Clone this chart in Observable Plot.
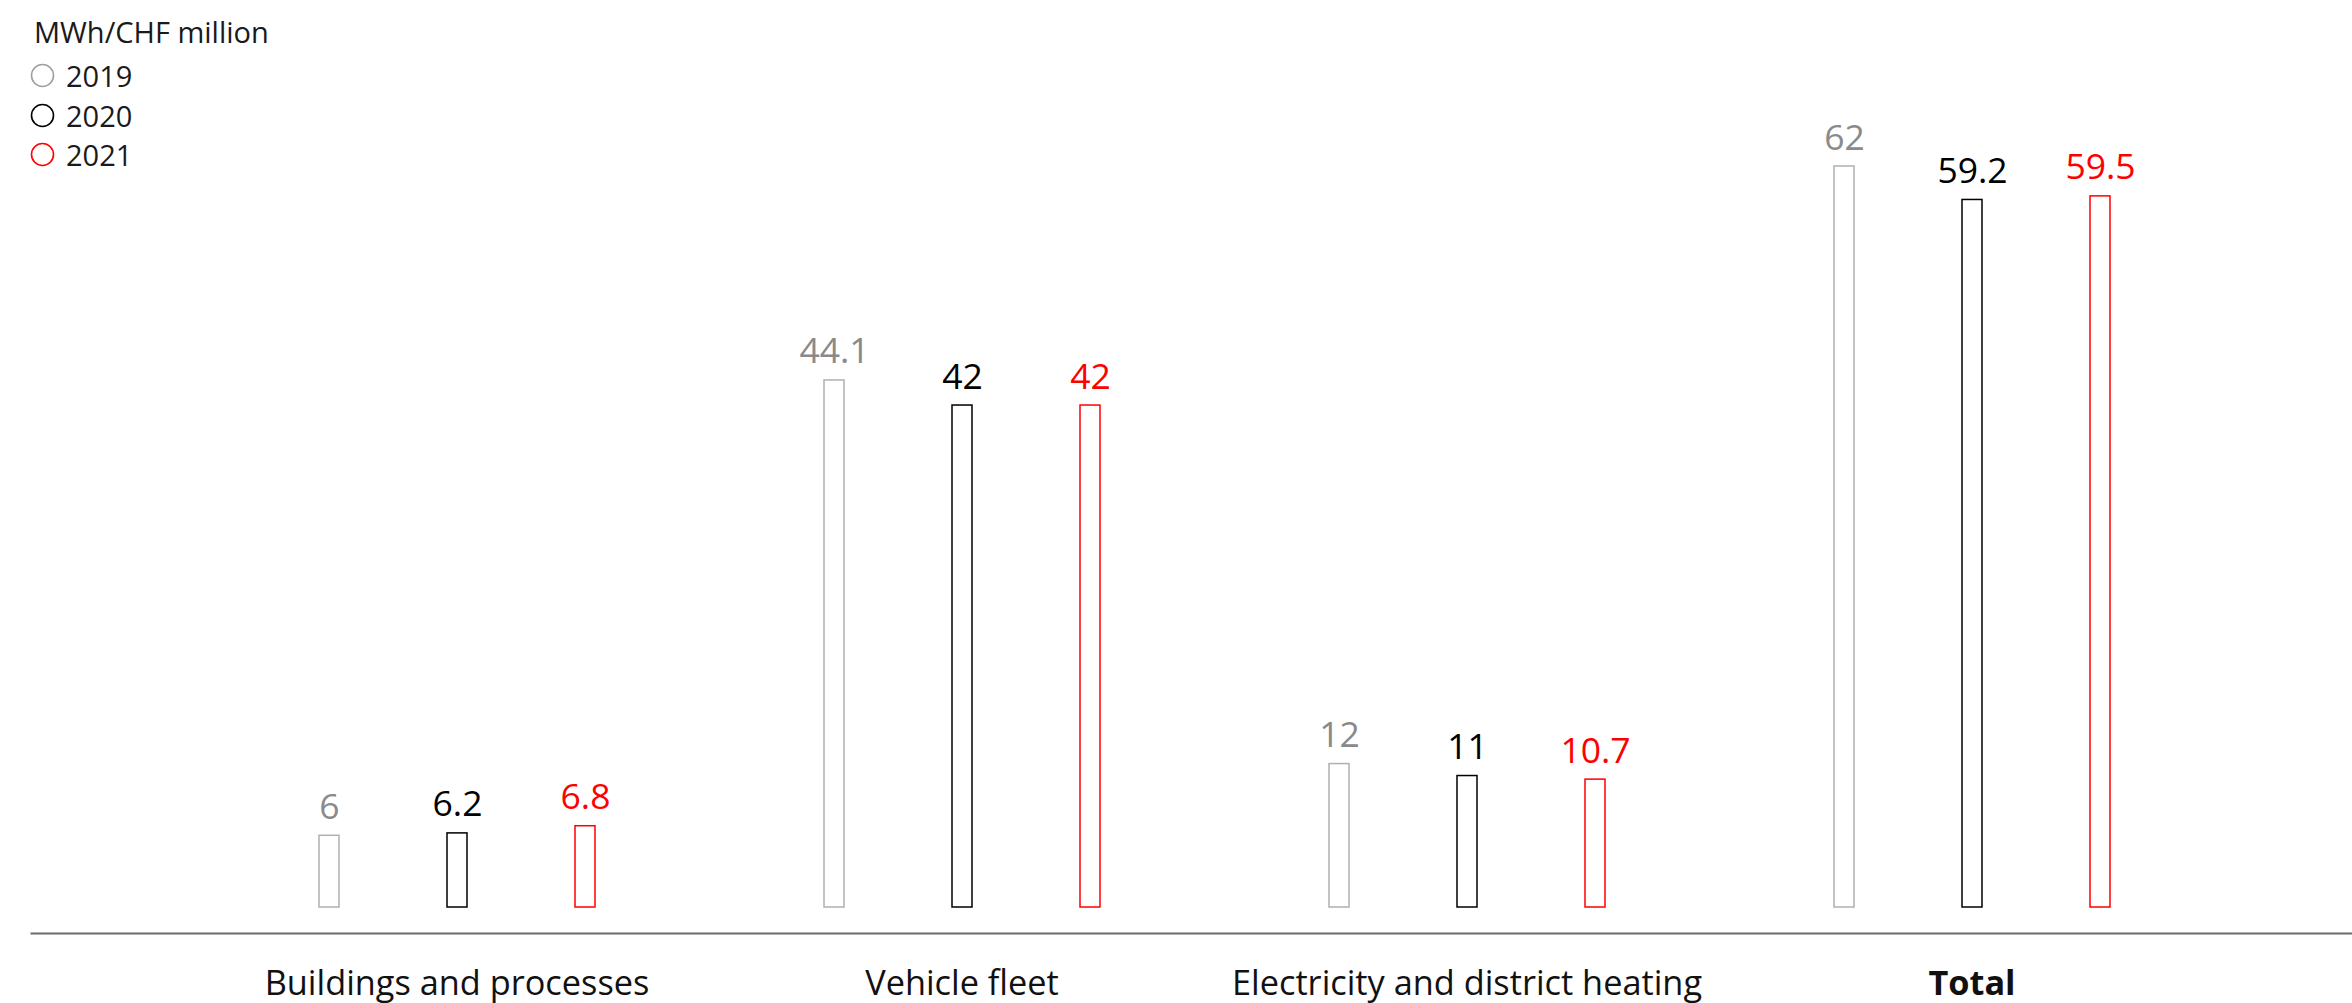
<!DOCTYPE html>
<html>
<head>
<meta charset="utf-8">
<script src="https://cdn.jsdelivr.net/npm/d3@7"></script>
<script src="https://cdn.jsdelivr.net/npm/@observablehq/plot@0.6"></script>
<style>
  html, body { margin: 0; padding: 0; background: #fff; }
  #wrap { position: relative; width: 2352px; height: 1003px; font-family: "Open Sans", "Noto Sans", sans-serif; }
  #chart { position: absolute; left: 0; top: 0; }
  .lg-head { position: absolute; left: 34px; top: 12px; font-size: 29px; line-height: 40px; color: #1a1a1a; white-space: nowrap; }
  .lg-row { position: absolute; left: 30px; height: 40px; display: flex; align-items: center; font-size: 29px; color: #1a1a1a; white-space: nowrap; }
  .lg-row svg { margin-right: 11px; }
</style>
</head>
<body>
<div id="wrap">
  <div id="chart"></div>
  <div id="legend"></div>
</div>
<script>
const categories = ["Buildings and processes", "Vehicle fleet", "Electricity and district heating", "Total"];
const years = ["2019", "2020", "2021"];
const values2019 = [6, 44.1, 12, 62];
const values2020 = [6.2, 42, 11, 59.2];
const values2021 = [6.8, 42, 10.7, 59.5];
const valueLabels2019 = ["6", "44.1", "12", "62"];
const valueLabels2020 = ["6.2", "42", "11", "59.2"];
const valueLabels2021 = ["6.8", "42", "10.7", "59.5"];
const barColors = ["#b0b0b0", "#000000", "#ff0000"];
const labelColors = ["#8a8a8a", "#000000", "#ff0000"];
const legendColors = ["#a0a0a0", "#000000", "#ff0000"];
const unitLabel = "MWh/CHF million";

const seriesValues = [values2019, values2020, values2021];
const seriesLabels = [valueLabels2019, valueLabels2020, valueLabels2021];
const data = years.flatMap((yr, j) => categories.map((c, i) => ({
  category: c, year: yr, value: seriesValues[j][i], label: seriesLabels[j][i]
})));

const font = "'Open Sans', 'Noto Sans', sans-serif";

const chart = Plot.plot({
  width: 2352,
  height: 1003,
  marginLeft: 31,
  marginRight: 0,
  marginTop: 166,
  marginBottom: 96,
  style: { fontFamily: font, background: "transparent", overflow: "visible" },
  fx: { domain: categories, paddingInner: 0, paddingOuter: 0.296, align: 0.575, axis: null, label: null },
  x: { domain: years, paddingInner: 0.845, paddingOuter: 0.88, axis: null, label: null },
  y: { domain: [0, 62], axis: null, label: null },
  color: { domain: years, range: barColors },
  marks: [
    Plot.frame({ facet: "super", anchor: "bottom", dy: 26, insetLeft: -173, insetRight: -127, stroke: "#6b6b6b", strokeWidth: 2 }),
    Plot.barY(data, { fx: "category", x: "year", y: "value", fill: "white", stroke: "year", strokeWidth: 1.5 }),
    ...years.map((yr, j) => Plot.text(data.filter(d => d.year === yr), {
      fx: "category", x: "year", y: "value", text: "label",
      lineAnchor: "bottom", dy: -17, fontSize: 35.5, fill: labelColors[j]
    })),
    Plot.text(categories.filter(c => c !== "Total"), {
      fx: d => d, text: d => d, frameAnchor: "bottom", lineAnchor: "bottom",
      dy: 87, fontSize: 34.3, fill: "#111"
    }),
    Plot.text(categories.filter(c => c === "Total"), {
      fx: d => d, text: d => d, frameAnchor: "bottom", lineAnchor: "bottom",
      dy: 87, fontSize: 34.3, fontWeight: "bold", fill: "#111"
    })
  ]
});
document.getElementById("chart").appendChild(chart);

// Legend
const legend = document.getElementById("legend");
const head = document.createElement("div");
head.className = "lg-head";
head.textContent = unitLabel;
legend.appendChild(head);
const rowCenters = [75, 115, 154];
years.forEach((yr, j) => {
  const row = document.createElement("div");
  row.className = "lg-row";
  row.style.top = (rowCenters[j] - 20) + "px";
  row.innerHTML = `<svg width="25" height="25" viewBox="0 0 25 25"><circle cx="12.5" cy="12.5" r="11" fill="none" stroke="${legendColors[j]}" stroke-width="1.6"/></svg><span>${yr}</span>`;
  legend.appendChild(row);
});
</script>
</body>
</html>
